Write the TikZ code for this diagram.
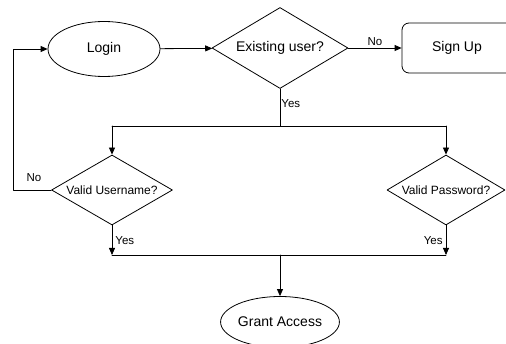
\documentclass[tikz,border=0pt]{standalone}
\usepackage{fontspec}
\setmainfont{Liberation Sans}
\usetikzlibrary{shapes.geometric,arrows.meta}

\tikzset{
  flow/.style={line width=0.8pt,-{Triangle[length=7pt,width=6pt]}},
  link/.style={line width=0.8pt},
  term/.style={draw,line width=0.8pt,ellipse,inner sep=0pt,font=\fontsize{14}{16}\selectfont},
  decide/.style={draw,line width=0.8pt,diamond,inner sep=0pt,font=\fontsize{14}{16}\selectfont},
  check/.style={decide,font=\fontsize{12}{14}\selectfont},
  tag/.style={font=\fontsize{11.5}{13}\selectfont,inner sep=1pt}
}

\begin{document}
\begin{tikzpicture}[x=1pt,y=-1pt,line cap=round,line join=round]
  \useasboundingbox (0,0) rectangle (506,344);
  \node[term,minimum width=112pt,minimum height=55pt] (login) at (104,49) {Login};
  \node[decide,aspect=1.68,minimum width=136pt,minimum height=81pt] (exist) at (280,48) {Existing user?};
  \node[draw,line width=0.8pt,rounded corners=7pt,minimum width=120pt,minimum height=50pt,
        font=\fontsize{14}{16}\selectfont] (signup) at (462,48) {\hspace*{-10pt}Sign Up};
  \node[check,aspect=1.73,minimum width=121pt,minimum height=70pt] (user) at (112,190) {Valid Username?};
  \node[check,aspect=1.69,minimum width=118pt,minimum height=70pt] (pass) at (446,190) {Valid Password?};
  \node[term,minimum width=112pt,minimum height=51pt] (grant) at (280,322) {Grant Access};
  \coordinate (split) at (280,126);
  \coordinate (splitL) at (112,126);
  \coordinate (splitR) at (446,126);
  \coordinate (back) at (13,190);
  \coordinate (backtop) at (13,49);
  \coordinate (joinL) at (112,255);
  \coordinate (joinR) at (446,255);
  \coordinate (join) at (280,255);
  % top row
  \draw[flow] (login) -- (exist);
  \draw[flow] (exist) -- (signup.west) node[tag,midway,above=1pt] {No};
  % yes branch
  \draw[link] (exist.south) -- (split) node[tag,pos=0.4,right] {Yes};
  \draw[link] (splitL) -- (splitR);
  \draw[flow] (splitL) -- (user.north);
  \draw[flow] (splitR) -- (pass.north);
  % back to login
  \draw[flow] (user.west) -- (back) -- (backtop) -- (login.west);
  \node[tag] (nolabel) at (34,178) {No};
  % join
  \draw[flow] (user.south) -- (joinL) node[tag,midway,right=2pt] {Yes};
  \draw[flow] (pass.south) -- (joinR) node[tag,midway,left=2pt] {Yes};
  \draw[link] (joinL) -- (joinR);
  \draw[flow] (join) -- (grant.north);
\end{tikzpicture}
\end{document}
